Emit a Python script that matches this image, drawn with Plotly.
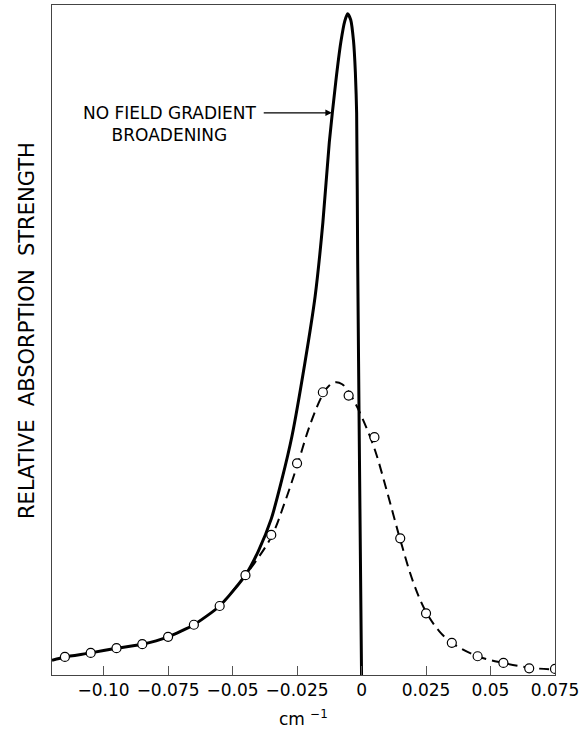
import plotly.graph_objects as go

# measured data (arbitrary y units)
circle_x = [-0.115, -0.105, -0.095, -0.085, -0.075, -0.065, -0.055, -0.045, -0.035, -0.025,
            -0.015, -0.005, 0.005, 0.015, 0.025, 0.035, 0.045, 0.055, 0.065, 0.075]
circle_y = [2.7, 3.3, 4.0, 4.6, 5.7, 7.5, 10.3, 14.9, 20.9, 31.6,
            42.2, 41.7, 35.5, 20.4, 9.2, 4.8, 2.8, 1.8, 1.0, 0.9]

dashed_x = [-0.055, -0.045, -0.035, -0.03, -0.025, -0.02, -0.015, -0.0125, -0.01, -0.0075, -0.005,
            -0.0025, 0.0, 0.005, 0.01, 0.015, 0.02, 0.025, 0.03, 0.035, 0.045, 0.055, 0.065, 0.075]
dashed_y = [10.3, 14.9, 20.6, 25.5, 31.2, 37.3, 41.9, 43.2, 43.7, 43.4, 42.3,
            40.6, 38.6, 33.8, 27.2, 20.2, 13.9, 9.4, 6.6, 4.8, 2.8, 1.8, 1.1, 0.8]

solid_x = [-0.12, -0.115, -0.105, -0.095, -0.085, -0.075, -0.065, -0.055, -0.045, -0.04,
           -0.035, -0.031, -0.027, -0.022, -0.018, -0.015, -0.0125, -0.010, -0.008, -0.0065,
           -0.0054, -0.0042, -0.0031, -0.0024, -0.0019, -0.0015, -0.0008, 0.0]
solid_y = [2.2, 2.7, 3.3, 4.0, 4.6, 5.7, 7.5, 10.3, 14.9, 18.5,
           23.3, 29.0, 35.6, 46.5, 56.5, 67.5, 79.5, 88.5, 94.5, 97.6,
           98.7, 97.8, 94.6, 90.0, 83.9, 62.0, 32.0, 0.0]

tick_vals = [-0.10, -0.075, -0.05, -0.025, 0, 0.025, 0.05, 0.075]
tick_text = ["\u22120.10", "\u22120.075", "\u22120.05", "\u22120.025", "0", "0.025", "0.05", "0.075"]

FONT = "DejaVu Sans"

fig = go.Figure()
fig.add_trace(go.Scatter(x=dashed_x, y=dashed_y, mode="lines", line_shape="spline",
                         line=dict(color="black", width=2, dash="10px,6px"), hoverinfo="skip"))
fig.add_trace(go.Scatter(x=solid_x, y=solid_y, mode="lines", line_shape="spline",
                         line=dict(color="black", width=3, smoothing=0.6), hoverinfo="skip"))
fig.add_trace(go.Scatter(x=circle_x, y=circle_y, mode="markers",
                         marker=dict(symbol="circle", size=9, color="white",
                                     line=dict(color="black", width=1.2))))

fig.add_annotation(x=-0.0115, y=83.9, ax=-0.0385, ay=83.9, xref="x", yref="y",
                   axref="x", ayref="y", text="", showarrow=True, arrowhead=2,
                   arrowsize=1, arrowwidth=1.3, arrowcolor="black")
fig.add_annotation(x=-0.0745, y=82.3, xref="x", yref="y", text="NO FIELD GRADIENT<br>BROADENING",
                   showarrow=False, align="center", font=dict(family=FONT, size=17, color="black"))
fig.add_annotation(x=-0.051, y=0.514, xref="paper", yref="paper", xanchor="center", yanchor="middle",
                   text="RELATIVE  ABSORPTION  STRENGTH",
                   textangle=-90, showarrow=False, font=dict(family=FONT, size=21, color="black"))
fig.add_annotation(x=0.5, y=-0.064, xref="paper", yref="paper", xanchor="center", yanchor="middle",
                   text="cm <sup>\u22121</sup>", showarrow=False,
                   font=dict(family=FONT, size=17, color="black"))

fig.update_layout(
    width=583, height=738,
    margin=dict(l=52, r=25, t=4, b=63),
    plot_bgcolor="white", paper_bgcolor="white",
    showlegend=False,
    font=dict(family=FONT, size=17, color="black"),
)
fig.update_xaxes(range=[-0.12, 0.075], tickvals=tick_vals, ticktext=tick_text,
                 ticks="inside", ticklen=9, tickwidth=1, tickcolor="#555",
                 showline=True, linecolor="#444", linewidth=1, mirror=True,
                 showgrid=False, zeroline=False, tickfont=dict(family=FONT, size=17))
fig.update_yaxes(range=[0, 100], showticklabels=False, ticks="",
                 showline=True, linecolor="#444", linewidth=1, mirror=True,
                 showgrid=False, zeroline=False)

fig.write_html("out.html")
